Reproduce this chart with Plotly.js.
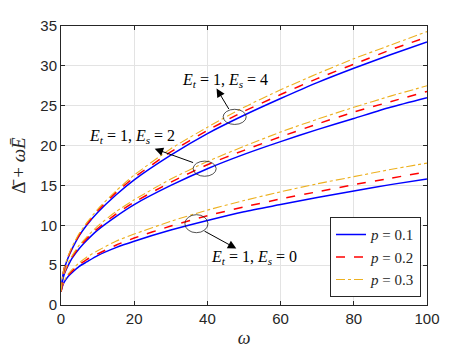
<!DOCTYPE html>
<html>
<head>
<meta charset="utf-8">
<script src="https://cdn.plot.ly/plotly-3.0.1.min.js"></script>
<style>html,body{margin:0;padding:0;background:#fff;}#chart{width:471px;height:353px;}</style>
</head>
<body>
<div id="chart"></div>
<script>
// omega sample points
var omega = [0, 0.5, 1, 2, 3, 5, 7, 10, 15, 20, 30, 40, 50, 60, 70, 80, 90, 100];

// E_t = 1, E_s = 4
var es4_p01 = [1.7, 3.7, 4.7, 6.0, 7.0, 8.7, 10.0, 11.6, 13.8, 15.7, 18.8, 21.5, 23.8, 25.9, 27.9, 29.7, 31.4, 33.0];
var es4_p02 = [1.7, 3.75, 4.8, 6.1, 7.15, 8.8, 10.1, 11.8, 14.1, 16.0, 19.2, 21.9, 24.3, 26.4, 28.4, 30.2, 32.0, 33.6];
var es4_p03 = [1.7, 3.8, 4.9, 6.2, 7.3, 9.0, 10.3, 12.0, 14.3, 16.3, 19.6, 22.3, 24.8, 27.0, 29.0, 30.9, 32.6, 34.3];

// E_t = 1, E_s = 2
var es2_p01 = [1.7, 3.2, 4.0, 5.0, 5.85, 7.1, 8.1, 9.4, 11.1, 12.6, 15.0, 17.1, 18.9, 20.5, 22.0, 23.4, 24.8, 26.0];
var es2_p02 = [1.7, 3.3, 4.1, 5.15, 6.0, 7.3, 8.3, 9.6, 11.4, 12.9, 15.4, 17.6, 19.4, 21.1, 22.7, 24.2, 25.5, 26.8];
var es2_p03 = [1.7, 3.35, 4.2, 5.3, 6.15, 7.5, 8.5, 9.9, 11.7, 13.2, 15.8, 18.0, 19.9, 21.7, 23.3, 24.8, 26.2, 27.5];

// E_t = 1, E_s = 0
var es0_p01 = [1.7, 2.5, 2.95, 3.6, 4.05, 4.85, 5.4, 6.2, 7.2, 8.0, 9.4, 10.6, 11.7, 12.6, 13.5, 14.3, 15.1, 15.8];
var es0_p02 = [1.7, 2.55, 3.05, 3.75, 4.25, 5.05, 5.7, 6.4, 7.5, 8.4, 9.9, 11.2, 12.3, 13.3, 14.2, 15.1, 15.9, 16.7];
var es0_p03 = [1.7, 2.6, 3.15, 3.9, 4.45, 5.3, 6.0, 6.8, 8.0, 8.9, 10.5, 11.9, 13.1, 14.2, 15.2, 16.1, 17.0, 17.8];

var legendNames = ['<i>p</i> = 0.1', '<i>p</i> = 0.2', '<i>p</i> = 0.3'];
var annTexts = ['<i>E</i><sub><i>t</i></sub> = 1, <i>E</i><sub><i>s</i></sub> = 4',
                '<i>E</i><sub><i>t</i></sub> = 1, <i>E</i><sub><i>s</i></sub> = 2',
                '<i>E</i><sub><i>t</i></sub> = 1, <i>E</i><sub><i>s</i></sub> = 0'];
var xTicks = [0, 20, 40, 60, 80, 100];
var yTicks = [0, 5, 10, 15, 20, 25, 30, 35];

var styles = [
  {color: '#0000FF', width: 1.5, dash: 'solid'},
  {color: '#FF0000', width: 1.5, dash: 'dash'},
  {color: '#EDB120', width: 1.1, dash: 'dashdot'}
];
var groups = [[es0_p01, es0_p02, es0_p03], [es2_p01, es2_p02, es2_p03], [es4_p01, es4_p02, es4_p03]];
var traces = [];
groups.forEach(function (g, gi) {
  g.forEach(function (ys, pi) {
    traces.push({
      x: omega, y: ys, type: 'scatter', mode: 'lines',
      line: {color: styles[pi].color, width: styles[pi].width, dash: styles[pi].dash, shape: 'spline', smoothing: 0.6},
      name: legendNames[pi], legendgroup: 'p' + pi, showlegend: gi === 0
    });
  });
});

var serif = 'Liberation Serif, Times New Roman, serif';
var layout = {
  width: 471, height: 353,
  margin: {l: 61, r: 44, t: 26, b: 48},
  paper_bgcolor: '#ffffff', plot_bgcolor: '#ffffff',
  showlegend: true,
  font: {family: 'Liberation Sans, Arial, sans-serif', size: 15, color: '#262626'},
  xaxis: {
    range: [0, 100], tickvals: xTicks, ticktext: xTicks.map(String),
    showgrid: true, gridcolor: '#e3e3e3', gridwidth: 1, zeroline: false,
    showline: true, linecolor: '#262626', linewidth: 1, mirror: 'ticks',
    ticks: 'inside', ticklen: 4, tickcolor: '#262626',
    tickfont: {family: 'Liberation Sans, Arial, sans-serif', size: 15, color: '#262626'},
    title: {text: '<i>ω</i>', font: {family: serif, size: 18, color: '#262626'}, standoff: 5}
  },
  yaxis: {
    range: [0, 35], tickvals: yTicks, ticktext: yTicks.map(String),
    showgrid: true, gridcolor: '#e3e3e3', gridwidth: 1, zeroline: false,
    showline: true, linecolor: '#262626', linewidth: 1, mirror: 'ticks',
    ticks: 'inside', ticklen: 4, tickcolor: '#262626',
    tickfont: {family: 'Liberation Sans, Arial, sans-serif', size: 15, color: '#262626'},
    title: {text: 'Δ̄ + <i>ωĒ</i>', font: {family: serif, size: 19, color: '#262626'}, standoff: 9}
  },
  legend: {
    x: 0.735, y: 0.028, xanchor: 'left', yanchor: 'bottom',
    bgcolor: '#ffffff', bordercolor: '#262626', borderwidth: 1,
    font: {family: serif, size: 15, color: '#262626'},
    tracegroupgap: 0, itemwidth: 30
  },
  shapes: [
    {type: 'circle', xref: 'x', yref: 'y', x0: 44.3, x1: 50.6, y0: 22.65, y1: 24.55, line: {color: '#262626', width: 0.8}},
    {type: 'circle', xref: 'x', yref: 'y', x0: 36.1, x1: 42.4, y0: 16.15, y1: 18.05, line: {color: '#262626', width: 0.8}},
    {type: 'circle', xref: 'x', yref: 'y', x0: 33.85, x1: 40.15, y0: 9.07, y1: 11.33, line: {color: '#262626', width: 0.8}}
  ],
  annotations: [
    {x: 42.5, y: 27.15, ax: 46.1, ay: 24.4, axref: 'x', ayref: 'y', xref: 'x', yref: 'y', text: '', showarrow: true, arrowhead: 2, arrowsize: 1.7, arrowwidth: 1, arrowcolor: '#000'},
    {x: 25.6, y: 19.6, ax: 36.5, ay: 17.8, axref: 'x', ayref: 'y', xref: 'x', yref: 'y', text: '', showarrow: true, arrowhead: 2, arrowsize: 1.7, arrowwidth: 1, arrowcolor: '#000'},
    {x: 47.9, y: 7.08, ax: 38.8, ay: 9.37, axref: 'x', ayref: 'y', xref: 'x', yref: 'y', text: '', showarrow: true, arrowhead: 2, arrowsize: 1.7, arrowwidth: 1, arrowcolor: '#000'},
    {x: 44.7, y: 28.2, xref: 'x', yref: 'y', text: annTexts[0], showarrow: false, font: {family: serif, size: 16, color: '#000'}},
    {x: 19.5, y: 21.1, xref: 'x', yref: 'y', text: annTexts[1], showarrow: false, font: {family: serif, size: 16, color: '#000'}},
    {x: 52.6, y: 6.0, xref: 'x', yref: 'y', text: annTexts[2], showarrow: false, font: {family: serif, size: 16, color: '#000'}}
  ]
};

Plotly.newPlot('chart', traces, layout, {staticPlot: true, displayModeBar: false});
</script>
</body>
</html>
